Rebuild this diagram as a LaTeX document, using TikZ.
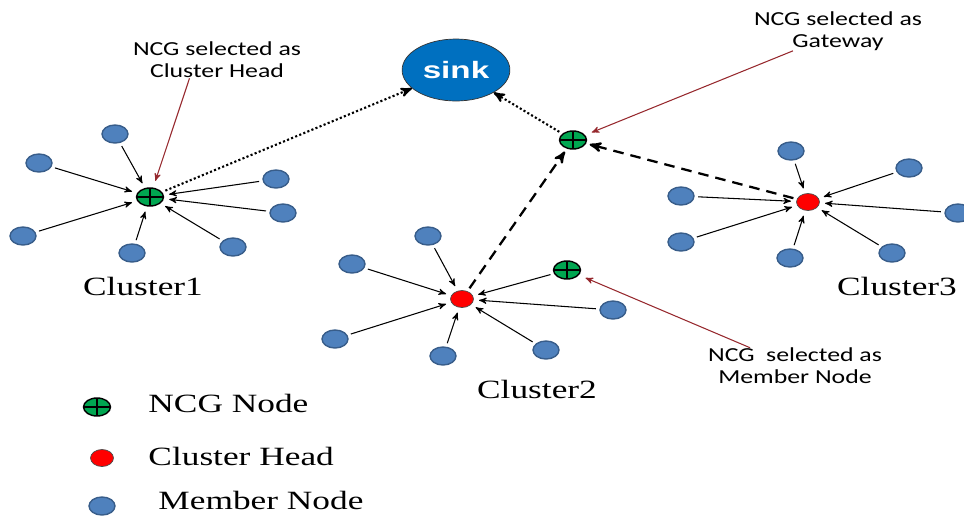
\documentclass[tikz,border=0pt]{standalone}
\usepackage{fontspec}
\setmainfont{Liberation Serif}
\newfontfamily\notefont{Carlito}
\newfontfamily\sinkfont{Liberation Sans}
\usetikzlibrary{arrows,shapes.geometric,calc}
\definecolor{membblue}{RGB}{79,129,189}
\definecolor{membedge}{RGB}{56,93,138}
\definecolor{ncggreen}{RGB}{0,166,81}
\definecolor{sinkblue}{RGB}{0,112,192}
\definecolor{notered}{RGB}{150,40,45}
\tikzset{
>=stealth',
  mbnode/.style={
    ellipse,
    fill=membblue,
    draw=membedge, thick,
    minimum width=0.52cm,
    minimum height=0.36cm,
    inner sep=0pt},
  chnode/.style={
    ellipse,
    fill=red,
    draw=black!70,
    minimum width=0.46cm,
    minimum height=0.34cm,
    inner sep=0pt},
  ncgnode/.style={
    ellipse,
    fill=ncggreen,
    draw=black, thick,
    minimum width=0.54cm,
    minimum height=0.36cm,
    inner sep=0pt,
    path picture={\draw[line width=1.6pt]
      (path picture bounding box.north) -- (path picture bounding box.south)
      (path picture bounding box.west) -- (path picture bounding box.east);}},
  sinknode/.style={
    ellipse,
    fill=sinkblue,
    draw=black!80,
    minimum width=1.54cm,
    minimum height=1.24cm,
    inner sep=0pt,
    text=white,
    font=\sinkfont\bfseries\fontsize{13.5}{16}\selectfont,
    xscale=1.4},
  feed/.style={->, semithick, shorten >=3pt, shorten <=2pt},
  uplink/.style={->, line width=1.2pt, dash pattern=on 1.2pt off 1.3pt, shorten <=2pt},
  trunk/.style={->, line width=1.3pt, dash pattern=on 6pt off 4pt, shorten <=2pt, shorten >=2pt},
  pointer/.style={->, notered, semithick, shorten >=4pt},
  notetext/.style={font=\notefont\fontsize{11.3}{12.5}\selectfont, align=center, xscale=1.3, inner sep=0pt},
  tagtext/.style={font=\fontsize{15}{18}\selectfont, xscale=1.34, inner sep=0pt},
}

\begin{document}
\begin{tikzpicture}[x=0.02cm, y=-0.02cm]
  \useasboundingbox (0,0) rectangle (964,515);
  % sink and gateway
  \node[sinknode] (sink) at (456,70) {sink};
  \node[ncgnode] (gw) at (573,140) {};
  % Cluster1, with an NCG node as head
  \node[ncgnode] (ch1) at (150,197) {};
  \foreach \p [count=\i] in {(115,134),(39,163),(276,179),(283,213),(23,236),(132,253),(233,247)}{
    \node[mbnode] (a\i) at \p {};
    \draw[feed] (a\i) -- (ch1);
  }
  \node[tagtext, anchor=base] (tag1) at (143,295) {Cluster1};
  % Cluster2
  \node[chnode] (ch2) at (462,299) {};
  \foreach \p [count=\i] in {(428,236),(352,264),(613,310),(335,339),(443,356),(546,350)}{
    \node[mbnode] (b\i) at \p {};
    \draw[feed] (b\i) -- (ch2);
  }
  \node[ncgnode] (ncg2) at (567,270) {};
  \draw[feed] (ncg2) -- (ch2);
  \node[tagtext, anchor=base] (tag2) at (537,398) {Cluster2};
  % Cluster3
  \node[chnode] (ch3) at (808,202) {};
  \foreach \p [count=\i] in {(791,151),(909,168),(681,196),(958,213),(681,242),(892,253),(790,258)}{
    \node[mbnode] (c\i) at \p {};
    \draw[feed] (c\i) -- (ch3);
  }
  \node[tagtext, anchor=base] (tag3) at (897,295) {Cluster3};
  % links towards the sink
  \draw[uplink] (ch1) -- (sink);
  \draw[uplink] (gw) -- (sink);
  \draw[trunk] (ch2) -- (gw);
  \draw[trunk] (ch3) -- (gw);
  % notes
  \node[notetext] (note1) at (217,60) {NCG selected as\\Cluster Head};
  \draw[pointer] ([xshift=-0.55cm]note1.south) -- (ch1);
  \node[notetext] (note2) at (838,31) {NCG selected as\\Gateway};
  \draw[pointer] ([xshift=-0.9cm]note2.south) -- (gw);
  \node[notetext] (note3) at (795,366) {NCG~ selected as\\Member Node};
  \draw[pointer] ([xshift=-0.9cm]note3.north) -- (ncg2);
  % legend
  \node[ncgnode] (lg1) at (97,407) {};
  \node[tagtext, anchor=base west] (lt1) at (148,412) {NCG Node};
  \node[chnode] (lg2) at (102,458) {};
  \node[tagtext, anchor=base west] (lt2) at (148,465) {Cluster Head};
  \node[mbnode] (lg3) at (102,506) {};
  \node[tagtext, anchor=base west] (lt3) at (158,509) {Member Node};
\end{tikzpicture}
\end{document}
